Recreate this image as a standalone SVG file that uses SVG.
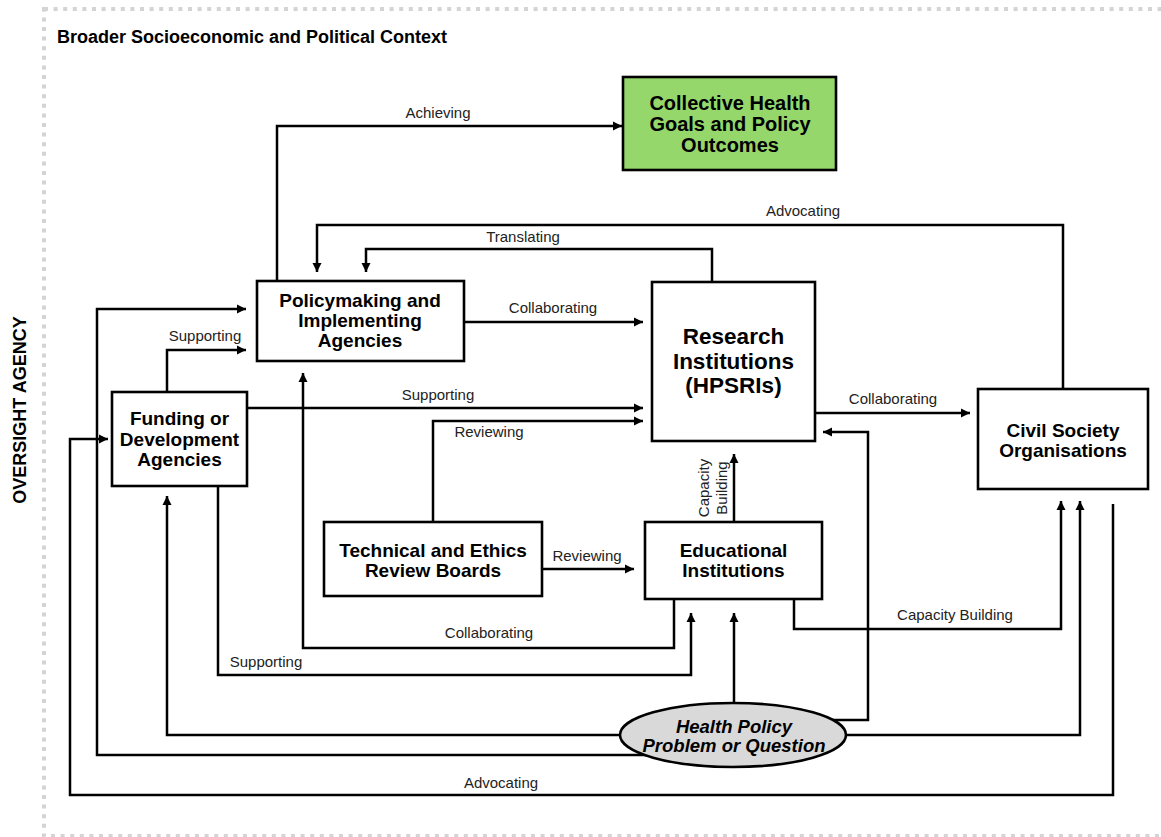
<svg xmlns="http://www.w3.org/2000/svg" width="1161" height="837" viewBox="0 0 1161 837">
<defs>
<marker id="ah" markerUnits="userSpaceOnUse" markerWidth="10" markerHeight="10" refX="9" refY="5" orient="auto">
<path d="M0,0.5 L9,5 L0,9.5 z" fill="#000"/>
</marker>
<style>
.c{fill:none;stroke:#000;stroke-width:2.5;marker-end:url(#ah)}
.box{fill:#fff;stroke:#000;stroke-width:2.6}
.nt{font-family:"Liberation Sans",Arial,sans-serif;font-weight:bold;font-size:19px;fill:#000;text-anchor:middle}
.lb{font-family:"Liberation Sans",Arial,sans-serif;font-size:15px;fill:#222;text-anchor:middle}
</style>
</defs>
<rect x="0" y="0" width="1161" height="837" fill="#fff"/>
<rect x="44" y="9" width="1200" height="827" fill="none" stroke="#d4d4d4" stroke-width="4" stroke-dasharray="4 5.6"/>
<text x="57" y="43" font-family="Liberation Sans,Arial,sans-serif" font-weight="bold" font-size="18" fill="#000">Broader Socioeconomic and Political Context</text>
<text transform="translate(26,410) rotate(-90)" font-family="Liberation Sans,Arial,sans-serif" font-weight="bold" font-size="18" fill="#000" text-anchor="middle">OVERSIGHT AGENCY</text>

<g id="connectors">
<path class="c" d="M277,281 V126 H622"/>
<path class="c" d="M1063,389 V225 H317 V272"/>
<path class="c" d="M712,282 V249 H366 V272"/>
<path class="c" d="M464,322 H643"/>
<path class="c" d="M167,392 V350 H246"/>
<path class="c" d="M660,755 H97 V309 H246"/>
<path class="c" d="M247,408 H643"/>
<path class="c" d="M433,522 V421 H643"/>
<path class="c" d="M542,569 H634"/>
<path class="c" d="M734,522 V454"/>
<path class="c" d="M815,413 H970"/>
<path class="c" d="M674,599 V648 H303 V373"/>
<path class="c" d="M218,487 V675 H691 V613"/>
<path class="c" d="M734,703 V613"/>
<path class="c" d="M640,735 H167 V496"/>
<path class="c" d="M820,720 H868 V432 H823"/>
<path class="c" d="M830,735 H1080 V501"/>
<path class="c" d="M794,599 V629 H1061 V501"/>
<path class="c" d="M1113,504 V795 H70 V439 H108"/>
<text class="lb" x="438" y="118">Achieving</text>
<text class="lb" x="803" y="216">Advocating</text>
<text class="lb" x="523" y="242">Translating</text>
<text class="lb" x="553" y="313">Collaborating</text>
<text class="lb" x="205" y="341">Supporting</text>
<text class="lb" x="438" y="400">Supporting</text>
<text class="lb" x="489" y="437">Reviewing</text>
<text class="lb" x="893" y="404">Collaborating</text>
<text class="lb" x="587" y="561">Reviewing</text>
<text class="lb" transform="translate(709,488) rotate(-90)">Capacity</text>
<text class="lb" transform="translate(727,488) rotate(-90)">Building</text>
<text class="lb" x="489" y="638">Collaborating</text>
<text class="lb" x="266" y="667">Supporting</text>
<text class="lb" x="955" y="620">Capacity Building</text>
<text class="lb" x="501" y="788">Advocating</text>
</g>

<g id="goals">
<rect x="623" y="77" width="213" height="93" fill="#95d76a" stroke="#000" stroke-width="2.6"/>
<text class="nt" style="font-size:20px" x="730" y="110">Collective Health</text>
<text class="nt" style="font-size:20px" x="730" y="131">Goals and Policy</text>
<text class="nt" style="font-size:20px" x="730" y="152">Outcomes</text>
</g>

<g id="policymaking">
<rect class="box" x="257" y="281" width="207" height="80"/>
<text class="nt" x="360" y="307">Policymaking and</text>
<text class="nt" x="360" y="327">Implementing</text>
<text class="nt" x="360" y="347">Agencies</text>
</g>

<g id="research">
<rect class="box" x="652" y="282" width="163" height="159"/>
<text class="nt" style="font-size:22.5px" x="733.5" y="344">Research</text>
<text class="nt" style="font-size:22.5px" x="733.5" y="369">Institutions</text>
<text class="nt" style="font-size:22.5px" x="733.5" y="393">(HPSRIs)</text>
</g>

<g id="funding">
<rect class="box" x="112" y="392" width="135" height="94"/>
<text class="nt" x="179.5" y="425">Funding or</text>
<text class="nt" x="179.5" y="446">Development</text>
<text class="nt" x="179.5" y="466">Agencies</text>
</g>

<g id="civil">
<rect class="box" x="978" y="389" width="170" height="100"/>
<text class="nt" x="1063" y="437">Civil Society</text>
<text class="nt" x="1063" y="457">Organisations</text>
</g>

<g id="technical">
<rect class="box" x="324" y="522" width="218" height="74"/>
<text class="nt" x="433" y="557">Technical and Ethics</text>
<text class="nt" x="433" y="577">Review Boards</text>
</g>

<g id="educational">
<rect class="box" x="645" y="522" width="177" height="77"/>
<text class="nt" x="733.5" y="557">Educational</text>
<text class="nt" x="733.5" y="577">Institutions</text>
</g>

<g id="problem">
<ellipse cx="733" cy="735" rx="113" ry="32" fill="#d9d9d9" stroke="#000" stroke-width="2.6"/>
<text class="nt" style="font-style:italic;font-size:18.5px" x="734" y="733">Health Policy</text>
<text class="nt" style="font-style:italic;font-size:18.5px" x="734" y="752">Problem or Question</text>
</g>
</svg>
